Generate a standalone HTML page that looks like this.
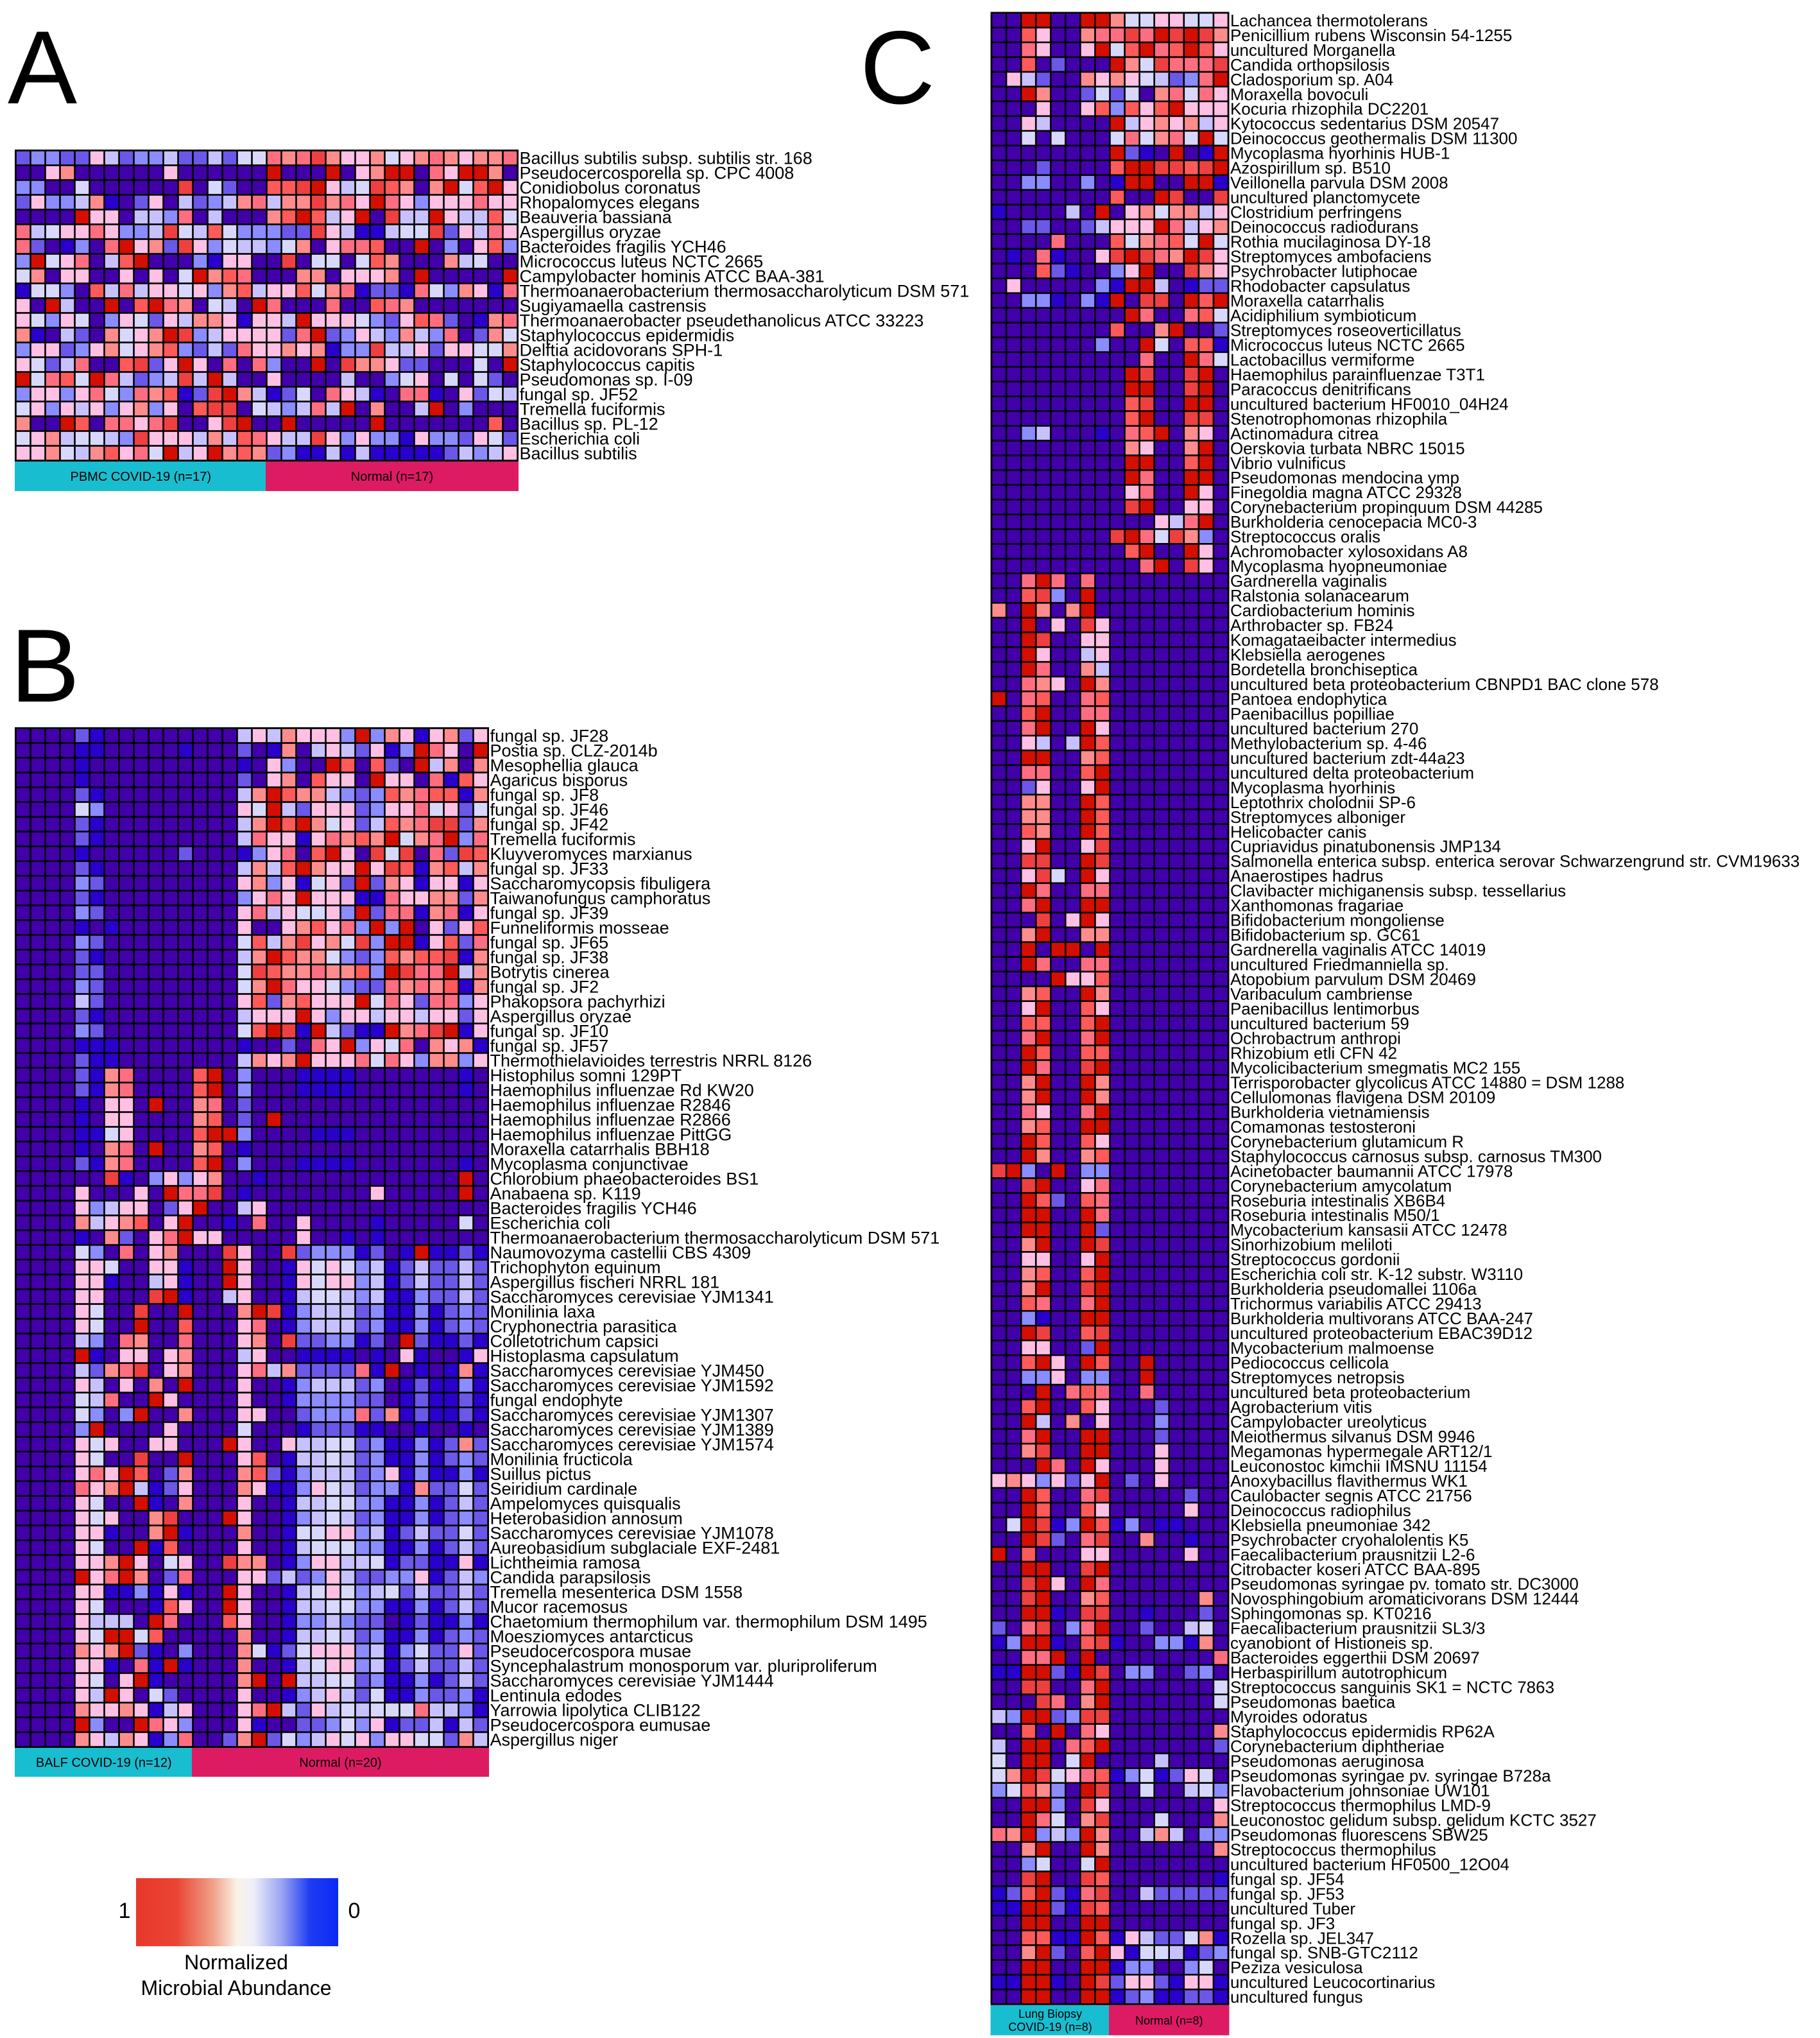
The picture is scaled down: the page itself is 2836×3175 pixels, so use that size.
<!DOCTYPE html>
<html><head><meta charset="utf-8"><style>
html,body{margin:0;padding:0;background:#fff;}
svg{display:block;}
text{font-family:"Liberation Sans",sans-serif;fill:#000;}
</style></head><body>
<svg id="fig" xmlns="http://www.w3.org/2000/svg" width="2836" height="3175" viewBox="0 0 2836 3175">
<defs>
<linearGradient id="legGrad" x1="0" x2="1" y1="0" y2="0">
<stop offset="0" stop-color="#E8382A"/><stop offset="0.2" stop-color="#EA4434"/><stop offset="0.38" stop-color="#F0A088"/><stop offset="0.5" stop-color="#FBF3E6"/><stop offset="0.58" stop-color="#EEEEFA"/><stop offset="0.72" stop-color="#9AA4F2"/><stop offset="0.86" stop-color="#1E3CF2"/><stop offset="1" stop-color="#0A2AF6"/>
</linearGradient>
</defs>
<text x="12" y="161" font-size="162">A</text>
<text x="16" y="1093" font-size="162">B</text>
<text x="1340" y="161" font-size="162">C</text>
<g>
<rect x="212" y="2926" width="315" height="106" fill="url(#legGrad)"/>
<text x="194" y="2988" font-size="34" text-anchor="middle">1</text>
<text x="552" y="2988" font-size="34" text-anchor="middle">0</text>
<text x="368" y="3068" font-size="32" text-anchor="middle">Normalized</text>
<text x="368" y="3108" font-size="32" text-anchor="middle">Microbial Abundance</text>
</g>
</svg>
<script>
// ===== Data =====
const palette = ["#4200AA","#2A00CC","#6B57E8","#8A8CFF","#C7C2FF","#D8D8FC","#FFC0E4","#FF8C8C","#FF6E80","#FF5A5A","#EE4040","#D40E00"];

const labelsA = ["Bacillus subtilis subsp. subtilis str. 168","Pseudocercosporella sp. CPC 4008","Conidiobolus coronatus","Rhopalomyces elegans","Beauveria bassiana","Aspergillus oryzae","Bacteroides fragilis YCH46","Micrococcus luteus NCTC 2665","Campylobacter hominis ATCC BAA-381","Thermoanaerobacterium thermosaccharolyticum DSM 571","Sugiyamaella castrensis","Thermoanaerobacter pseudethanolicus ATCC 33223","Staphylococcus epidermidis","Delftia acidovorans SPH-1","Staphylococcus capitis","Pseudomonas sp. I-09","fungal sp. JF52","Tremella fuciformis","Bacillus sp. PL-12","Escherichia coli","Bacillus subtilis"];
const valuesA = [
"23322642334224255878A7667567876778",
"00670000006000000B000B067BB086BB70",
"33005000000A0520099AB645A9707B59B6",
"26334710260423478477A786B863666866",
"0000B66044380400079B946B0A44B64495",
"8456686334A549533322A6411455A26486",
"8201308B672A635443570688900B030693",
"3B568049B000316600A055059700074500",
"570660060605B79800077066670B00000B",
"1553094846656379466957812218537618",
"60B400B09B870540B80008009870000000",
"6536503652647761664B66653269820178",
"7104207567BA34666628B2364374380275",
"366236756793242866767133A446266557",
"65248009A26B60808300B0A7762200050B",
"B5895B84234A4B40060000400356050520",
"3663685387912AB7412508641088106254",
"5636463673609AA0543484B07004B03000",
"700B908868A006AB00B00000B000000090",
"56745543A66647498644A6363316332652",
"6675479685B46B79723114141111124346"];

const labelsB = ["fungal sp. JF28","Postia sp. CLZ-2014b","Mesophellia glauca","Agaricus bisporus","fungal sp. JF8","fungal sp. JF46","fungal sp. JF42","Tremella fuciformis","Kluyveromyces marxianus","fungal sp. JF33","Saccharomycopsis fibuligera","Taiwanofungus camphoratus","fungal sp. JF39","Funneliformis mosseae","fungal sp. JF65","fungal sp. JF38","Botrytis cinerea","fungal sp. JF2","Phakopsora pachyrhizi","Aspergillus oryzae","fungal sp. JF10","fungal sp. JF57","Thermothielavioides terrestris NRRL 8126","Histophilus somni 129PT","Haemophilus influenzae Rd KW20","Haemophilus influenzae R2846","Haemophilus influenzae R2866","Haemophilus influenzae PittGG","Moraxella catarrhalis BBH18","Mycoplasma conjunctivae","Chlorobium phaeobacteroides BS1","Anabaena sp. K119","Bacteroides fragilis YCH46","Escherichia coli","Thermoanaerobacterium thermosaccharolyticum DSM 571","Naumovozyma castellii CBS 4309","Trichophyton equinum","Aspergillus fischeri NRRL 181","Saccharomyces cerevisiae YJM1341","Monilinia laxa","Cryphonectria parasitica","Colletotrichum capsici","Histoplasma capsulatum","Saccharomyces cerevisiae YJM450","Saccharomyces cerevisiae YJM1592","fungal endophyte","Saccharomyces cerevisiae YJM1307","Saccharomyces cerevisiae YJM1389","Saccharomyces cerevisiae YJM1574","Monilinia fructicola","Suillus pictus","Seiridium cardinale","Ampelomyces quisqualis","Heterobasidion annosum","Saccharomyces cerevisiae YJM1078","Aureobasidium subglaciale EXF-2481","Lichtheimia ramosa","Candida parapsilosis","Tremella mesenterica DSM 1558","Mucor racemosus","Chaetomium thermophilum var. thermophilum DSM 1495","Moesziomyces antarcticus","Pseudocercospora musae","Syncephalastrum monosporum var. pluriproliferum","Saccharomyces cerevisiae YJM1444","Lentinula edodes","Yarrowia lipolytica CLIB122","Pseudocercospora eumusae","Aspergillus niger"];
const valuesB = [
"00002100000000046476663B37616726","000011000001000201704642613B860B","000010000000000106300B90920B4707","000010000000000206709660B6608196",
"00002100000000047B97743239789917","00005300000000065B42666236685625","00002100000000047B9B75624978AA27","0000210000000004866168797B578B38",
"000010000002000136809B60A5A082A9","0000210000000004749B766B6A917947","00003200000000067361562B27616616","0000210000000003686B666118667727",
"00003200000000068465563B28817816","000010100000000600679683B3B06269","0000320000000005947A675A3BB16928","00002100000000047B97753239799A17",
"0000220000000005A97787793BA88B47","00003200000000057B86653228787917","00004200000000069279666B58628836","0000210000000004666B636646646626",
"00003200000000059BA1B4211B78AB16","0000111000000001002086B365807671","0000211000000004767B666858637736",
"0000217800009B030001111000000010","0000217800009B030001111000000010","000010660B0078020000000000000000","00001066000079020B00000000000000",
"0000115600009BB30000111000000000","000010780B0079010000000000000000","0000217800009B030001111000000010","000000A10363670010000000000000B0",
"0000600060B88A0100000000600000B0","000063466026B0046000000000000000","00007467906B00108006000010000050","00001072068B66000006001010000000",
"00005308067000A600A23331201B1121","00006650066100B60016565341242242","00006610046100B60016566341242242","000066000AB100460014554341132242",
"00006500A00B0007BA13444231131232","00006500B00900068013444231131232","000043087008000670A2233120B21121","0000B106606700046001111010610016",
"00004278A0670006847222281B010171","00006406070B00060013444230121131","000054800B6000060013333220121121","00005303B00700066002333827121121",
"00003B00006000050001222110010010","00006560066000B60064455231131272","00006500A00B00069014454231131232","0000686B902700079213444236131131",
"0000867B412600076113654233172252","00006500B10700060014455331131242","0000656007A000B60013454231131232","0000661007B100070015566341242252",
"00006500B19000060014555331131242","0000667B605600A77013664451221161","0000B68B702800066242364223361243","00006611316100B60014565345242242",
"00006500019600B60014455331131242","000064440B8000960013343220121131","000065BB590000070014454231131232","0000767B210300075125666341352262",
"0000661081B100070014566341242242","00006506B1000007B0B4455231131242","000064B6052000060013464251132231","00007667614600068B42645455584431",
"0000B300B86300061002235361224142","0000764761380027B253465636655274"];

const labelsC = ["Lachancea thermotolerans","Penicillium rubens Wisconsin 54-1255","uncultured Morganella","Candida orthopsilosis","Cladosporium sp. A04","Moraxella bovoculi","Kocuria rhizophila DC2201","Kytococcus sedentarius DSM 20547","Deinococcus geothermalis DSM 11300","Mycoplasma hyorhinis HUB-1","Azospirillum sp. B510","Veillonella parvula DSM 2008","uncultured planctomycete","Clostridium perfringens","Deinococcus radiodurans","Rothia mucilaginosa DY-18","Streptomyces ambofaciens","Psychrobacter lutiphocae","Rhodobacter capsulatus","Moraxella catarrhalis","Acidiphilium symbioticum","Streptomyces roseoverticillatus","Micrococcus luteus NCTC 2665","Lactobacillus vermiforme","Haemophilus parainfluenzae T3T1","Paracoccus denitrificans","uncultured bacterium HF0010_04H24","Stenotrophomonas rhizophila","Actinomadura citrea","Oerskovia turbata NBRC 15015","Vibrio vulnificus","Pseudomonas mendocina ymp","Finegoldia magna ATCC 29328","Corynebacterium propinquum DSM 44285","Burkholderia cenocepacia MC0-3","Streptococcus oralis","Achromobacter xylosoxidans A8","Mycoplasma hyopneumoniae","Gardnerella vaginalis","Ralstonia solanacearum","Cardiobacterium hominis","Arthrobacter sp. FB24","Komagataeibacter intermedius","Klebsiella aerogenes","Bordetella bronchiseptica","uncultured beta proteobacterium CBNPD1 BAC clone 578","Pantoea endophytica","Paenibacillus popilliae","uncultured bacterium 270","Methylobacterium sp. 4-46","uncultured bacterium zdt-44a23","uncultured delta proteobacterium","Mycoplasma hyorhinis","Leptothrix cholodnii SP-6","Streptomyces alboniger","Helicobacter canis","Cupriavidus pinatubonensis JMP134","Salmonella enterica subsp. enterica serovar Schwarzengrund str. CVM19633","Anaerostipes hadrus","Clavibacter michiganensis subsp. tessellarius","Xanthomonas fragariae","Bifidobacterium mongoliense","Bifidobacterium sp. GC61","Gardnerella vaginalis ATCC 14019","uncultured Friedmanniella sp.","Atopobium parvulum DSM 20469","Varibaculum cambriense","Paenibacillus lentimorbus","uncultured bacterium 59","Ochrobactrum anthropi","Rhizobium etli CFN 42","Mycolicibacterium smegmatis MC2 155","Terrisporobacter glycolicus ATCC 14880 = DSM 1288","Cellulomonas flavigena DSM 20109","Burkholderia vietnamiensis","Comamonas testosteroni","Corynebacterium glutamicum R","Staphylococcus carnosus subsp. carnosus TM300","Acinetobacter baumannii ATCC 17978","Corynebacterium amycolatum","Roseburia intestinalis XB6B4","Roseburia intestinalis M50/1","Mycobacterium kansasii ATCC 12478","Sinorhizobium meliloti","Streptococcus gordonii","Escherichia coli str. K-12 substr. W3110","Burkholderia pseudomallei 1106a","Trichormus variabilis ATCC 29413","Burkholderia multivorans ATCC BAA-247","uncultured proteobacterium EBAC39D12","Mycobacterium malmoense","Pediococcus cellicola","Streptomyces netropsis","uncultured beta proteobacterium","Agrobacterium vitis","Campylobacter ureolyticus","Meiothermus silvanus DSM 9946","Megamonas hypermegale ART12/1","Leuconostoc kimchii IMSNU 11154","Anoxybacillus flavithermus WK1","Caulobacter segnis ATCC 21756","Deinococcus radiophilus","Klebsiella pneumoniae 342","Psychrobacter cryohalolentis K5","Faecalibacterium prausnitzii L2-6","Citrobacter koseri ATCC BAA-895","Pseudomonas syringae pv. tomato str. DC3000","Novosphingobium aromaticivorans DSM 12444","Sphingomonas sp. KT0216","Faecalibacterium prausnitzii SL3/3","cyanobiont of Histioneis sp.","Bacteroides eggerthii DSM 20697","Herbaspirillum autotrophicum","Streptococcus sanguinis SK1 = NCTC 7863","Pseudomonas baetica","Myroides odoratus","Staphylococcus epidermidis RP62A","Corynebacterium diphtheriae","Pseudomonas aeruginosa","Pseudomonas syringae pv. syringae B728a","Flavobacterium johnsoniae UW101","Streptococcus thermophilus LMD-9","Leuconostoc gelidum subsp. gelidum KCTC 3527","Pseudomonas fluorescens SBW25","Streptococcus thermophilus","uncultured bacterium HF0500_12O04","fungal sp. JF54","fungal sp. JF53","uncultured Tuber","fungal sp. JF3","Rozella sp. JEL347","fungal sp. SNB-GTC2112","Peziza vesiculosa","uncultured Leucocortinarius","uncultured fungus"];
const valuesC = [
"00BB00BB75566556","009600788A8BABA7","0086006B59B89B96","00902000B75A888A","064200767654238B","00B7002525078586","000600693969B666","00640000B4676746",
"00505000585785B5","00000000B210B01B","000200009BBAA9AB","003300301BB00BB1","00000000900BA00A","1000040B06757746","00220024666B8467","00008000957895B5",
"01081006ABA87BA6","0009210036B00A76","060000031BB40122","00331031B0AA0B9B","000000000B800895","000000009007B002","0000000300B50991","0000000000800B85",
"000000000BA00AB0","000000000BB00AB0","0000000009A00BB0","0000000009B00AA0","00340001089B0760","00000000076007B0","000000000BB009B0","000000000B800BB0",
"0000000006800B60","000000000AB00660","00000000000648B0","00000000AB85A730","0000000009B00B60","00000000008B0A60","008B808000000000","009A30B000000000",
"70B707B000000000","00B060A600000000","00BA006600000000","00B6004600000000","00B8007400000000","008760B700000000","B089008900000000","009B008800000000",
"008B00B600000000","006404B900000000","00BB007900000000","0088009B00000000","0026006B00000000","007700B900000000","007700B900000000","009700B900000000",
"006B006A00000000","00AA00BA00000000","006A50B600000000","00B8008800000000","008B00BB00000000","000A06B600000000","007B007700000000","00B0BB0B00000000",
"00B8008800000000","0000B66900000000","007900B700000000","006B009600000000","0099009B00000000","008B008B00000000","00B9009900000000","00B800AB00000000",
"007B00B700000000","007B00B700000000","0086008B00000000","007900BB00000000","00B9009600000000","00B7007900000000","AB30B03300000000","00AB006800000000",
"00B9209800000000","00BB00B800000000","00BB00B200000000","007B00BA00000000","0066006B00000000","0079009B00000000","007B00AB00000000","0098008B00000000",
"003100BB00000000","00BA009A00000000","0066002B00000000","009B60B900B00000","0033603300B00000","000B089800800000","009B009600020000","00B4070600030000",
"008B00BB00020000","007A00BB00060000","000B80B600060000","6763626B02060000","00B9008A00000200","00B9009600000600","05BA13B913011000","00BA208A00700100",
"B090006600000600","00BB00AB00000000","00AB60B800000000","00AB007900000070","00BB10AA00100020","208A038B00200450","13BB109A10033170","0088B0B000000008",
"11BB21BA03300230","00AA008B00000005","000A807B00000005","43BB23AA00000000","0090B08600000007","40BB089B00000002","50BB05B000040000","57BA568913512650",
"359730BA00500453","00BB30A600000006","00B8507A00050007","87B343B700474033","007B00B700000007","0035005B00000000","00AB00A900000001","129B218A00422222",
"11BB21A900000000","00BB00BB00000000","009911B916422571","007B209B61554123","00BB00BB13300350","11BB10BA26621661","00BB00BB12311221"];

const groupsA = ["PBMC COVID-19 (n=17)","Normal (n=17)"];
const groupSizesA = [17,17];
const groupsB = ["BALF COVID-19 (n=12)","Normal (n=20)"];
const groupSizesB = [12,20];
const groupsC = ["Lung Biopsy|COVID-19 (n=8)","Normal (n=8)"];
const groupSizesC = [8,8];

// ===== Rendering =====
const NS = "http://www.w3.org/2000/svg";
const svg = document.getElementById("fig");
function mk(tag, attrs, parent) {
  const e = document.createElementNS(NS, tag);
  for (const k in attrs) e.setAttribute(k, attrs[k]);
  (parent || svg).appendChild(e);
  return e;
}
function parseRow(s) { return s.split("").map(c => parseInt(c, 12)); }

function drawPanel(id, x0, y0, cw, rh, labels, values, groups, sizes, fontSize, barH, barFont) {
  const g = mk("g", {});
  
  
  const nRows = values.length;
  const nCols = values[0].length;
  const xScale = j => x0 + j * cw;
  const yScale = i => y0 + i * rh;
  const bg = mk("rect", {x: x0 - 1.5, y: y0 - 1.5, width: nCols * cw + 3, height: nRows * rh + 3, fill: "#000"}, g);
  
  
  values.forEach((row, i) => {
    parseRow(row).forEach((v, j) => {
      const r = mk("rect", {x: xScale(j) + 1.3, y: yScale(i) + 1.3, width: cw - 2.6, height: rh - 2.6, fill: palette[v]}, g);
      
      
    });
    const t = mk("text", {x: xScale(nCols) + 3, y: yScale(i) + rh / 2 + fontSize * 0.36, "font-size": fontSize}, g);
    t.textContent = labels[i];
    
    
  });
  const yb = yScale(nRows) + 1.5;
  let c = 0;
  groups.forEach((name, k) => {
    const xs = xScale(c) - 1.5, xe = xScale(c + sizes[k]) + (k === groups.length - 1 ? 1.5 : 0);
    const r = mk("rect", {x: xs, y: yb, width: xe - xs, height: barH, fill: k === 0 ? "#19BDD0" : "#DD1B63"}, g);
    
    
    const parts = name.split("|");
    parts.forEach((p, pi) => {
      const cy = yb + barH / 2 + (pi - (parts.length - 1) / 2) * barFont * 1.15 + barFont * 0.36;
      const t = mk("text", {x: (xs + xe) / 2, y: cy, "font-size": barFont, "text-anchor": "middle"}, g);
      t.textContent = p;
      
      
    });
    c += sizes[k];
  });
}

drawPanel("a", 24.5, 234.5, 23.0, 23.0, labelsA, valuesA, groupsA, groupSizesA, 27, 46, 20);
drawPanel("b", 24.5, 1134.5, 23.0, 23.0, labelsB, valuesB, groupsB, groupSizesB, 27, 45, 20);
drawPanel("c", 1545, 20, 23.06, 22.98, labelsC, valuesC, groupsC, groupSizesC, 26, 47, 18);
</script>
</body></html>
